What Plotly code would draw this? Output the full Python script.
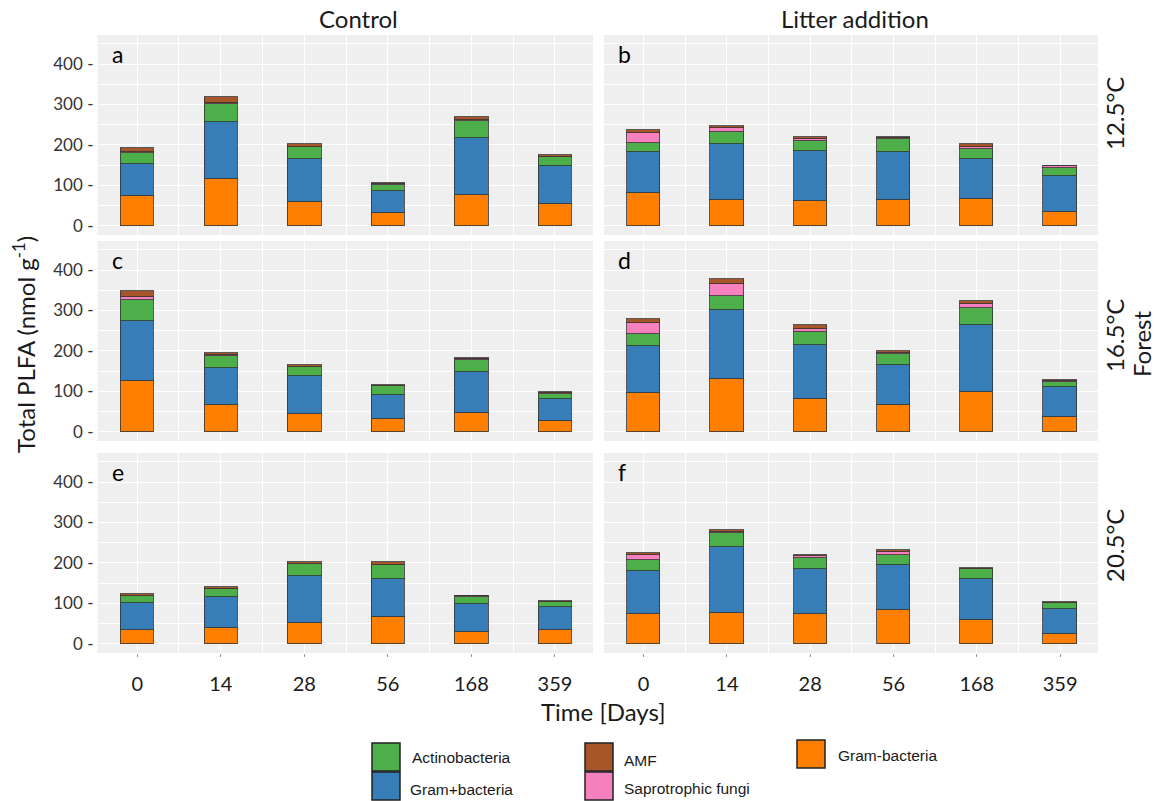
import plotly.graph_objects as go
from plotly.subplots import make_subplots

# ---- data -----------------------------------------------------------------
days = ["0", "14", "28", "56", "168", "359"]
panels = ["a", "b", "c", "d", "e", "f"]          # row-major: (12.5, 16.5, 20.5 °C) x (Control, Litter)
treatments = ["Control", "Litter addition"]
temperatures = ["12.5°C", "16.5°C", "20.5°C"]
site = "Forest"
y_ticks = [0, 100, 200, 300, 400]

# PLFA per microbial group (nmol g-1), one list of six days per panel
gram_neg = [
    [74, 115, 58, 31, 76, 53],
    [82, 64, 61, 63, 67, 33],
    [126, 67, 44, 31, 46, 26],
    [97, 131, 82, 65, 99, 36],
    [33, 39, 51, 65, 29, 33],
    [73, 76, 73, 84, 59, 25],
]
gram_pos = [
    [79, 141, 107, 55, 141, 94],
    [100, 138, 124, 119, 98, 89],
    [148, 91, 93, 61, 103, 56],
    [115, 171, 132, 101, 164, 74],
    [68, 77, 117, 96, 70, 57],
    [108, 164, 113, 112, 102, 61],
]
actino = [
    [27, 44, 29, 15, 43, 23],
    [23, 31, 25, 33, 25, 22],
    [53, 29, 23, 20, 29, 12],
    [29, 35, 33, 26, 42, 12],
    [17, 19, 29, 33, 17, 12],
    [27, 35, 25, 23, 23, 14],
]
sapro = [
    [3, 4, 1, 1, 2, 1],
    [24, 8, 4, 1, 6, 3],
    [6, 2, 1, 1, 1, 1],
    [29, 29, 8, 3, 10, 3],
    [1, 1, 1, 1, 1, 1],
    [11, 1, 5, 8, 1, 1],
]
amf = [
    [10, 14, 6, 3, 7, 5],
    [9, 6, 5, 3, 7, 2],
    [15, 7, 4, 2, 4, 3],
    [10, 13, 8, 5, 8, 4],
    [3, 4, 4, 7, 2, 3],
    [6, 5, 4, 6, 3, 2],
]

# stacking order bottom -> top
groups = [
    ("Gram-bacteria", gram_neg, "#FF7F00"),
    ("Gram+bacteria", gram_pos, "#377EB8"),
    ("Actinobacteria", actino, "#4DAF4A"),
    ("Saprotrophic fungi", sapro, "#F781BF"),
    ("AMF", amf, "#A65628"),
]

# ---- geometry (pixels) ------------------------------------------------------
W, H = 1161, 801
col_px = [(97.5, 593.0), (604.0, 1098.0)]
row_px = [(35.0, 235.0), (241.0, 441.0), (453.0, 653.0)]


def fx(px):
    return px / W


def fy(py):
    return 1 - py / H


TEXT = "#1a1a1a"
TICK = "#333333"
FONT = "Lato"

fig = make_subplots(rows=3, cols=2)

x_pos = list(range(len(days)))
for p, name in enumerate(panels):
    r, c = divmod(p, 2)
    for gname, vals, color in groups:
        fig.add_trace(
            go.Bar(
                x=x_pos,
                y=vals[p],
                name=gname,
                width=0.4,
                marker=dict(color=color, line=dict(color="rgba(50,50,50,0.8)", width=1)),
                showlegend=False,
                hoverinfo="skip",
            ),
            row=r + 1,
            col=c + 1,
        )

fig.update_layout(barmode="stack")

for p in range(6):
    r, c = divmod(p, 2)
    idx = p + 1
    xa = "xaxis" if idx == 1 else f"xaxis{idx}"
    ya = "yaxis" if idx == 1 else f"yaxis{idx}"
    x0, x1 = col_px[c]
    y0, y1 = row_px[r]
    bottom = r == 2
    left = c == 0
    fig.layout[xa].update(
        domain=[fx(x0), fx(x1)],
        anchor=("y" if idx == 1 else f"y{idx}"),
        range=[-0.475, 5.455],
        tickmode="array",
        tickvals=x_pos,
        ticktext=days,
        showticklabels=bottom,
        ticks="outside" if bottom else "",
        ticklen=3,
        tickcolor="#999999",
        ticklabelstandoff=10,
        tickfont=dict(family=FONT, size=20, color=TEXT),
        showgrid=True,
        gridcolor="white",
        gridwidth=1.3,
        minor=dict(dtick=0.5, tick0=0, showgrid=True, gridcolor="white", gridwidth=0.6),
        zeroline=False,
        showline=False,
        fixedrange=True,
    )
    fig.layout[ya].update(
        domain=[fy(y1), fy(y0)],
        anchor=("x" if idx == 1 else f"x{idx}"),
        range=[-23, 472],
        tickmode="array",
        tickvals=y_ticks,
        ticktext=[f"{v} -" for v in y_ticks],
        showticklabels=left,
        ticklabelstandoff=3,
        tickfont=dict(family=FONT, size=17, color=TICK),
        showgrid=True,
        gridcolor="white",
        gridwidth=1.3,
        minor=dict(dtick=50, tick0=0, showgrid=True, gridcolor="white", gridwidth=0.6),
        zeroline=False,
        showline=False,
        fixedrange=True,
    )

annotations = []

# panel letters
for p, name in enumerate(panels):
    r, c = divmod(p, 2)
    annotations.append(dict(
        x=fx(col_px[c][0] + 12), y=fy(row_px[r][0] + 19), xref="paper", yref="paper",
        text=name, showarrow=False, xanchor="left", yanchor="middle",
        font=dict(family=FONT, size=23, color="black"),
    ))

# column headings
heading_x = [358, 855]
for c, t in enumerate(treatments):
    annotations.append(dict(
        x=fx(heading_x[c]), y=fy(19), xref="paper", yref="paper",
        text=t, showarrow=False, xanchor="center", yanchor="middle",
        font=dict(family=FONT, size=24, color=TEXT),
    ))

# row strip labels
strip_y = [114, 336, 546]
for r, t in enumerate(temperatures):
    annotations.append(dict(
        x=fx(1114), y=fy(strip_y[r]), xref="paper", yref="paper",
        text=t, showarrow=False, textangle=-90, xanchor="center", yanchor="middle",
        font=dict(family=FONT, size=24, color=TEXT),
    ))
annotations.append(dict(
    x=fx(1142), y=fy(344), xref="paper", yref="paper",
    text=site, showarrow=False, textangle=-90, xanchor="center", yanchor="middle",
    font=dict(family=FONT, size=24, color=TEXT),
))

# axis titles
annotations.append(dict(
    x=fx(24), y=fy(345), xref="paper", yref="paper",
    text="Total PLFA (nmol g<sup>-1</sup>)", showarrow=False, textangle=-90,
    xanchor="center", yanchor="middle",
    font=dict(family=FONT, size=24, color=TEXT),
))
annotations.append(dict(
    x=fx(603), y=fy(711), xref="paper", yref="paper",
    text="Time [Days]", showarrow=False, xanchor="center", yanchor="middle",
    font=dict(family=FONT, size=24, color=TEXT),
))

# legend: key squares + labels
legend_items = [
    ("Actinobacteria", "#4DAF4A", 372, 743, 410, 757),
    ("Gram+bacteria", "#377EB8", 372, 772, 408, 789),
    ("AMF", "#A65628", 585, 743, 622, 760),
    ("Saprotrophic fungi", "#F781BF", 585, 772, 622, 788),
    ("Gram-bacteria", "#FF7F00", 797, 740, 836, 755),
]
shapes = []
for label, color, kx, ky, tx, ty in legend_items:
    shapes.append(dict(
        type="rect", xref="paper", yref="paper",
        x0=fx(kx), x1=fx(kx + 28), y0=fy(ky + 28), y1=fy(ky),
        fillcolor=color, line=dict(color="#222222", width=1.5),
    ))
    annotations.append(dict(
        x=fx(tx), y=fy(ty), xref="paper", yref="paper",
        text=label, showarrow=False, xanchor="left", yanchor="middle",
        font=dict(family="Liberation Sans, Arial", size=15.5, color=TEXT),
    ))

fig.update_layout(
    width=W,
    height=H,
    margin=dict(l=0, r=0, t=0, b=0),
    paper_bgcolor="white",
    plot_bgcolor="#EFEFEF",
    annotations=annotations,
    shapes=shapes,
    bargap=0,
)

fig.write_html("out.html")
